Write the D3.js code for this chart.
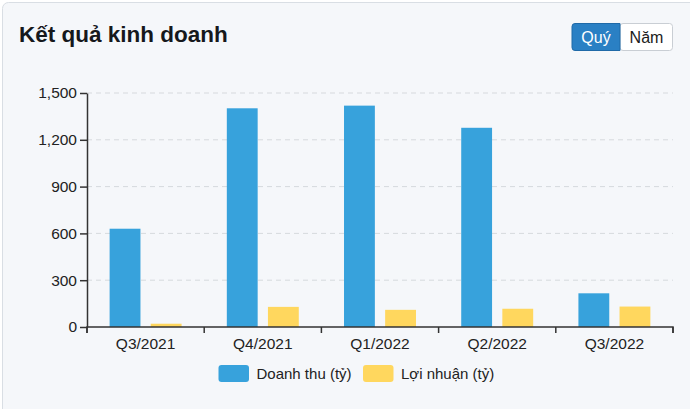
<!DOCTYPE html>
<html><head><meta charset="utf-8">
<script src="https://cdn.jsdelivr.net/npm/d3@7"></script>
<style>
html,body{margin:0;padding:0;background:#ffffff;}
svg{display:block;font-family:"Liberation Sans",Arial,Helvetica,sans-serif;}
</style></head>
<body>
<svg id="chart" width="690" height="409"></svg>
<script>
const categories = ["Q3/2021","Q4/2021","Q1/2022","Q2/2022","Q3/2022"];
const seriesNames = ["Doanh thu (tỷ)","Lợi nhuận (tỷ)"];
const revenue = [630, 1402, 1419, 1277, 216];
const profit = [21, 129, 110, 117, 131];
const yTicks = [0, 300, 600, 900, 1200, 1500];
const colors = ["#37a2dc", "#ffd75e"];
const title = "Kết quả kinh doanh";
const buttons = ["Quý", "Năm"];

const svg = d3.select("#chart");
// card
svg.append("rect").attr("x",2.5).attr("y",2.5).attr("width",700).attr("height",420)
  .attr("rx",6).attr("fill","#f5f7fa").attr("stroke","#d9dee4");

svg.append("text").attr("x",19).attr("y",42).text(title)
  .attr("font-size",22.5).attr("font-weight","bold").attr("fill","#16181c");

// buttons
const btn = svg.append("g");
btn.append("rect").attr("x",620).attr("y",23.5).attr("width",52.5).attr("height",27).attr("rx",3)
  .attr("fill","#ffffff").attr("stroke","#c9ced4");
btn.append("path").attr("d","M620,23.5 H575 a3,3 0 0 0 -3,3 V47.5 a3,3 0 0 0 3,3 H620 Z")
  .attr("fill","#2a80c4").attr("stroke","#1f6aa8");
btn.append("text").attr("x",596).attr("y",43).attr("text-anchor","middle").attr("fill","#ffffff")
  .attr("font-size",16).text(buttons[0]);
btn.append("text").attr("x",646.5).attr("y",43).attr("text-anchor","middle").attr("fill","#1a1a1a")
  .attr("font-size",16).text(buttons[1]);

const m = {left:87, right:673, top:93, bottom:327};
const y = d3.scaleLinear().domain([0,1500]).range([m.bottom, m.top]);
const x0 = d3.scaleBand().domain(categories).range([m.left, m.right]).padding(0);
const x1 = d3.scaleBand().domain(seriesNames).range([0, x0.bandwidth()])
  .paddingInner(0.25).paddingOuter(0.55);

// grid
svg.append("g").selectAll("line").data(yTicks.filter(d=>d>0)).join("line")
  .attr("x1",m.left).attr("x2",m.right).attr("y1",d=>y(d)).attr("y2",d=>y(d))
  .attr("stroke","#d6d9dd").attr("stroke-dasharray","5,4");

const data = categories.map((c,i)=>({c, vals:[revenue[i], profit[i]]}));
const groups = svg.append("g").selectAll("g").data(data).join("g")
  .attr("transform",d=>`translate(${x0(d.c)},0)`);
groups.selectAll("rect").data(d=>d.vals.map((v,j)=>({v, s:seriesNames[j], j})))
  .join("rect")
  .attr("x",d=>x1(d.s)).attr("width",x1.bandwidth())
  .attr("y",d=>y(d.v)).attr("height",d=>y(0)-y(d.v))
  .attr("fill",d=>colors[d.j]);

// axes
const yAxis = d3.axisLeft(y).tickValues(yTicks).tickSize(7).tickSizeOuter(0).tickFormat(d3.format(","));
const gy = svg.append("g").attr("transform",`translate(${m.left},0)`).call(yAxis);
gy.selectAll("text").attr("font-size",15.5).attr("fill","#222").attr("x",-10)
  .attr("font-family","Liberation Sans, Arial, sans-serif");
gy.selectAll("line,path").attr("stroke","#333").attr("stroke-width",1.5);

const xAxis = d3.axisBottom(x0).tickSize(6).tickSizeOuter(6);
const gx = svg.append("g").attr("transform",`translate(0,${m.bottom})`).call(xAxis);
gx.selectAll(".tick line").attr("transform",d=>`translate(${-x0.bandwidth()/2},0)`);
gx.append("line").attr("x1",m.right).attr("x2",m.right).attr("y1",0).attr("y2",6).attr("stroke","#333").attr("stroke-width",1.5);
gx.selectAll("text").attr("font-size",15.5).attr("fill","#222").attr("dy","0.71em").attr("y",11)
  .attr("font-family","Liberation Sans, Arial, sans-serif");
gx.selectAll("line,path").attr("stroke","#333").attr("stroke-width",1.5);
gx.select(".domain").attr("d",`M${m.left},6V0H${m.right}V6`);

// legend
const legendX = [218.5, 363];
const lg = svg.append("g").selectAll("g").data(seriesNames).join("g")
  .attr("transform",(d,i)=>`translate(${legendX[i]},365)`);
lg.append("rect").attr("width",30.5).attr("height",17).attr("rx",3)
  .attr("fill",(d,i)=>colors[i]);
lg.append("text").attr("x",38).attr("y",13.5).attr("font-size",15).attr("fill","#222").text(d=>d);
</script>
</body></html>
